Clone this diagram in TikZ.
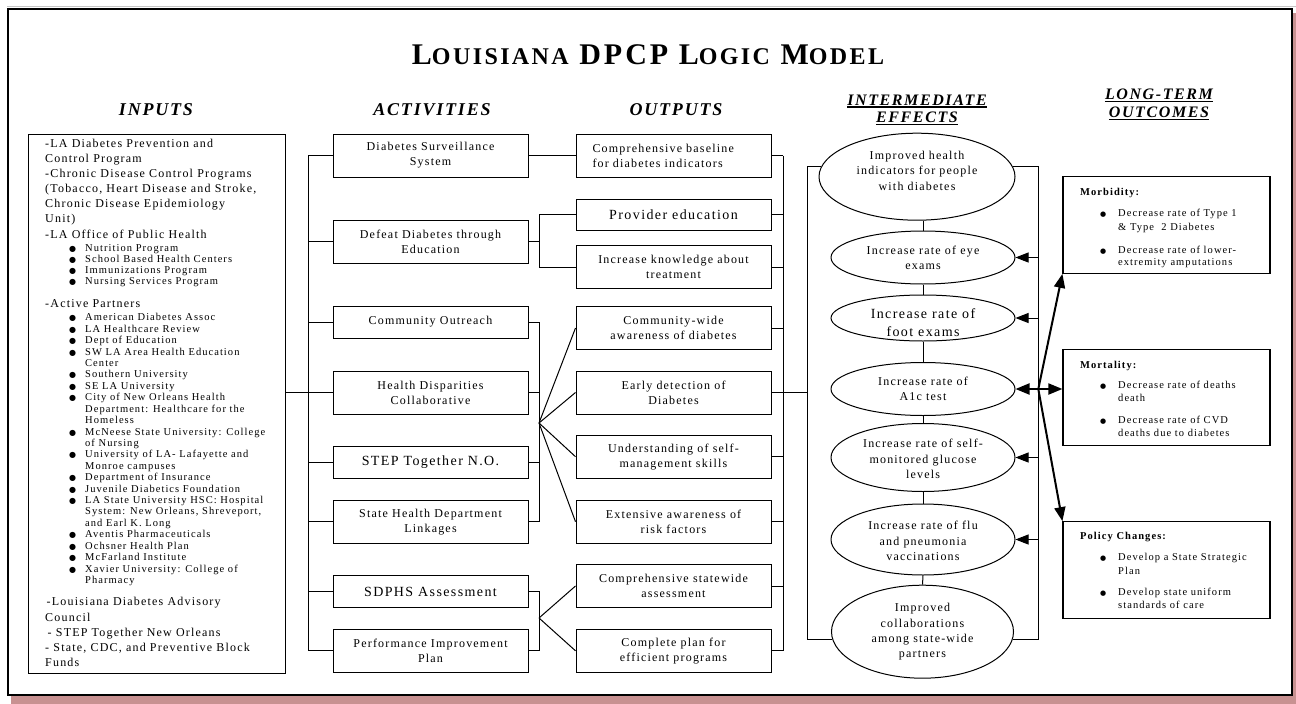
\documentclass[tikz,border=0pt]{standalone}
\usepackage{fontspec}
\setmainfont{Liberation Serif}[LetterSpace=10]
\newfontfamily\dejavu{DejaVu Sans}
\usetikzlibrary{arrows.meta,shapes.geometric,calc}
\definecolor{shadowpink}{RGB}{200,145,145}
\newcommand{\blt}{\makebox[16pt][l]{\smash{\dejavu\fontsize{8}{8}\selectfont ●}}}
\newcommand{\bltb}{\makebox[18pt][l]{\smash{\dejavu\fontsize{7}{7}\selectfont ●}}}
\newcommand{\tsmall}[1]{{\fontsize{24}{24}\selectfont #1}}
\begin{document}
\begin{tikzpicture}[x=1pt,y=-1pt,
  boxnode/.style={draw, line width=1pt, minimum width=195pt, inner sep=0pt, align=center, font=\fontsize{12}{15}\selectfont},
  bigtxt/.style={font=\fontsize{14}{17}\selectfont},
  ellnode/.style={draw, ellipse, line width=1pt, inner sep=0pt},
  elltxt/.style={align=center, inner sep=0pt, font=\fontsize{12}{15.3}\selectfont},
  inmain/.style={anchor=base west, inner sep=0pt, font=\fontsize{12}{12}\selectfont},
  inbul/.style={anchor=base west, inner sep=0pt, font=\fontsize{10.5}{10.5}\selectfont},
  ltbox/.style={draw, line width=1.2pt, minimum width=207pt, minimum height=96.5pt, inner sep=0pt},
  lttxt/.style={anchor=base west, inner sep=0pt, font=\fontsize{10.5}{10.5}\selectfont},
  lthead/.style={anchor=base west, inner sep=0pt, font=\bfseries\fontsize{10.5}{10.5}\selectfont},
  hdr/.style={font=\bfseries\itshape\fontsize{18}{18}\selectfont, anchor=base, inner sep=0pt},
  uhdr/.style={font=\bfseries\itshape\fontsize{16}{16}\selectfont, anchor=base, inner sep=0pt},
  conn/.style={line width=1pt},
  thinarrow/.style={line width=1pt, -{Triangle[length=13pt,width=10pt]}},
  thickarrow/.style={line width=2pt, -{Triangle[length=14pt,width=11pt]}}
]
\useasboundingbox (0,0) rectangle (1296,704);
% frame and shadow
\fill[shadowpink] (11,13) rectangle (1296,704);
\draw[gray!45, line width=1.5pt] (7,6.5) -- (1296,6.5);
\draw[line width=2pt, fill=white] (8,9) rectangle (1292,695);

% title
\node[font=\bfseries\fontsize{30}{30}\selectfont, anchor=base, inner sep=0pt] (title) at (648,64)
  {L\tsmall{OUISIANA} DPCP L\tsmall{OGIC} M\tsmall{ODEL}};

% headers
\node[hdr] (hin) at (156,115) {INPUTS};
\node[hdr] (hact) at (432,115) {ACTIVITIES};
\node[hdr] (hout) at (676,115) {OUTPUTS};
\node[uhdr] (hint1) at (917,105) {INTERMEDIATE};
\node[uhdr] (hint2) at (917,122.5) {EFFECTS};
\node[uhdr] (hlt1) at (1159,99.5) {LONG-TERM};
\node[uhdr] (hlt2) at (1159,117.5) {OUTCOMES};
\foreach \n in {hint1,hint2,hlt1,hlt2}
  \draw[line width=1.5pt] ([yshift=-2pt]\n.base west) -- ([yshift=-2pt]\n.base east);

% inputs box
\node[draw, line width=1pt, minimum width=257pt, minimum height=539pt, inner sep=0pt] (inp) at (156.5,403.5) {};
\foreach \yy/\t [count=\i] in {147/{-LA Diabetes Prevention and}, 162/{Control Program},
   177/{-Chronic Disease Control Programs}, 192/{(Tobacco, Heart Disease and Stroke,},
   207/{Chronic Disease Epidemiology}, 222/{Unit)}, 238.5/{-LA Office of Public Health},
   307/{-Active Partners}}
  \node[inmain] (inm\i) at (45,\yy) {\t};
\foreach \t [count=\i from 0] in {Nutrition Program, School Based Health Centers, Immunizations Program, Nursing Services Program}
  \node[inbul] (inb\i) at (69,{251+11.3*\i}) {\blt\t};
\foreach \xx/\t [count=\i from 0] in {
  69/{\blt American Diabetes Assoc},
  69/{\blt LA Healthcare Review},
  69/{\blt Dept of Education},
  69/{\blt SW LA Area Health Education},
  85/{Center},
  69/{\blt Southern University},
  69/{\blt SE LA University},
  69/{\blt City of New Orleans Health},
  85/{Department: Healthcare for the},
  85/{Homeless},
  69/{\blt McNeese State University: College},
  85/{of Nursing},
  69/{\blt University of LA- Lafayette and},
  85/{Monroe campuses},
  69/{\blt Department of Insurance},
  69/{\blt Juvenile Diabetics Foundation},
  69/{\blt LA State University HSC: Hospital},
  85/{System: New Orleans, Shreveport,},
  85/{and Earl K. Long},
  69/{\blt Aventis Pharmaceuticals},
  69/{\blt Ochsner Health Plan},
  69/{\blt McFarland Institute},
  69/{\blt Xavier University: College of},
  85/{Pharmacy}}
  \node[inbul] (ap\i) at (\xx,{320.8+11.42*\i}) {\t};
\node[inmain] (inl1) at (46.5,605.7) {-Louisiana Diabetes Advisory};
\node[inmain] (inl2) at (45,621.3) {Council};
\node[inmain] (inl3) at (47.5,636.3) {- STEP Together New Orleans};
\node[inmain] (inl4) at (45,651.7) {- State, CDC, and Preventive Block};
\node[inmain] (inl5) at (45,666.7) {Funds};

% activities
\node[boxnode, minimum height=43pt] (a1) at (430.5,155.5) {Diabetes Surveillance\\System};
\node[boxnode, minimum height=43pt] (a2) at (430.5,241.7) {Defeat Diabetes through\\Education};
\node[boxnode, minimum height=32pt] (a3) at (430.5,322) {Community Outreach};
\node[boxnode, minimum height=43pt] (a4) at (430.5,392.5) {Health Disparities\\Collaborative};
\node[boxnode, bigtxt, minimum height=32pt] (a5) at (430.5,462.5) {STEP Together N.O.};
\node[boxnode, minimum height=43pt] (a6) at (430.5,521.7) {State Health Department\\Linkages};
\node[boxnode, bigtxt, minimum height=32pt] (a7) at (430.5,591.7) {SDPHS Assessment};
\node[boxnode, minimum height=43pt] (a8) at (430.5,650.8) {Performance Improvement\\Plan};

% outputs
\node[boxnode, align=left, text width=162pt, minimum height=43pt] (o1) at (673.5,155.5) {Comprehensive baseline\\for diabetes indicators};
\node[boxnode, bigtxt, minimum height=31pt] (o2) at (673.5,214.5) {Provider education};
\node[boxnode, minimum height=43pt] (o3) at (673.5,267) {Increase knowledge about\\treatment};
\node[boxnode, minimum height=43pt] (o4) at (673.5,328) {Community-wide\\awareness of diabetes};
\node[boxnode, minimum height=43pt] (o5) at (673.5,392.5) {Early detection of\\Diabetes};
\node[boxnode, minimum height=43pt] (o6) at (673.5,456.7) {Understanding of self-\\management skills};
\node[boxnode, minimum height=43pt] (o7) at (673.5,521.7) {Extensive awareness of\\risk factors};
\node[boxnode, minimum height=43pt] (o8) at (673.5,586) {Comprehensive statewide\\assessment};
\node[boxnode, minimum height=43pt] (o9) at (673.5,650.8) {Complete plan for\\efficient programs};

% intermediate effects
\node[ellnode, minimum width=196pt, minimum height=87pt] (e1) at (917,176.7) {};
\node[ellnode, minimum width=184pt, minimum height=53pt] (e2) at (923,257.5) {};
\node[ellnode, minimum width=184pt, minimum height=46pt] (e3) at (923,318) {};
\node[ellnode, minimum width=184pt, minimum height=53pt] (e4) at (923,389) {};
\node[ellnode, minimum width=184pt, minimum height=68pt] (e5) at (923,457.5) {};
\node[ellnode, minimum width=184pt, minimum height=71pt] (e6) at (923,539.5) {};
\node[ellnode, minimum width=182pt, minimum height=93pt] (e7) at (922.5,631.7) {};
\node[elltxt] (e1t) at (917,170.7) {Improved health\\indicators for people\\with diabetes};
\node[elltxt] (e2t) at (923,257.5) {Increase rate of eye\\exams};
\node[elltxt, font=\fontsize{14}{18}\selectfont] (e3t) at (923,323) {Increase rate of\\foot exams};
\node[elltxt] (e4t) at (923,389) {Increase rate of\\A1c test};
\node[elltxt] (e5t) at (923,459) {Increase rate of self-\\monitored glucose\\levels};
\node[elltxt] (e6t) at (923,541) {Increase rate of flu\\and pneumonia\\vaccinations};
\node[elltxt] (e7t) at (922.5,632) {Improved\\collaborations\\among state-wide\\partners};

% long-term outcomes
\node[ltbox] (morb) at (1166.5,225) {};
\node[ltbox] (mort) at (1166.5,397.5) {};
\node[ltbox] (pol) at (1166.5,570) {};
\node[lthead] (morbh) at (1080,195) {Morbidity:};
\node[lttxt] (morb1) at (1100,216.5) {\bltb Decrease rate of Type 1};
\node[lttxt] (morb2) at (1118,230) {\& Type\ \ 2 Diabetes};
\node[lttxt] (morb3) at (1100,253.5) {\bltb Decrease rate of lower-};
\node[lttxt] (morb4) at (1118,265) {extremity amputations};
\node[lthead] (morth) at (1080,368.5) {Mortality:};
\node[lttxt] (mort1) at (1100,388.5) {\bltb Decrease rate of deaths};
\node[lttxt] (mort2) at (1118,401.8) {death};
\node[lttxt] (mort3) at (1100,423.5) {\bltb Decrease rate of CVD};
\node[lttxt] (mort4) at (1118,436.2) {deaths due to diabetes};
\node[lthead] (polh) at (1080,539.5) {Policy Changes:};
\node[lttxt] (pol1) at (1100,560) {\bltb Develop a State Strategic};
\node[lttxt] (pol2) at (1118,574) {Plan};
\node[lttxt] (pol3) at (1100,595) {\bltb Develop state uniform};
\node[lttxt] (pol4) at (1118,608.5) {standards of care};

% bus coordinates
\coordinate (ab) at (308,0);
\coordinate (fx) at (539,0);
\coordinate (ob) at (783,0);
\coordinate (lb) at (807,0);
\coordinate (rb) at (1038.3,0);

% inputs -> activities
\draw[conn] (inp.east |- a4.west) -- (a4.west);
\draw[conn] (a1.west -| ab) -- (a8.west -| ab);
\foreach \a in {a1,a2,a3,a4,a5,a6,a7,a8}
  \draw[conn] (\a.west -| ab) -- (\a.west);

% activities -> outputs
\draw[conn] (a1.east) -- (o1.west);
\draw[conn] (a2.east) -- (a2.east -| fx);
\draw[conn] (o2.west) -- (o2.west -| fx) -- (o3.west -| fx) -- (o3.west);
\draw[conn] (a3.east) -- (a3.east -| fx) -- (a6.east -| fx) -- (a6.east);
\draw[conn] (a4.east) -- (a4.east -| fx);
\draw[conn] (a5.east) -- (a5.east -| fx);
\coordinate (fan1) at (539,423);
\foreach \o in {o4,o5,o6,o7}
  \draw[conn] (fan1) -- (\o.west);
\draw[conn] (a7.east) -- (a7.east -| fx) -- (a8.east -| fx) -- (a8.east);
\coordinate (fan2) at (539,618);
\foreach \o in {o8,o9}
  \draw[conn] (fan2) -- (\o.west);

% outputs -> intermediate
\draw[conn] (o1.east -| ob) -- (o9.east -| ob);
\foreach \o in {o1,o2,o3,o4,o5,o6,o7,o8,o9}
  \draw[conn] (\o.east) -- (\o.east -| ob);
\draw[conn] (o5.east -| ob) -- (o5.east -| lb);
\draw[conn] (e1.174) -- (e1.174 -| lb) -- (e7.185 -| lb) -- (e7.185);
\draw[conn] (e1.6) -- (e1.6 -| rb) -- (e7.355 -| rb) -- (e7.355);
\draw[conn] (e2.north) -- (e2.north |- e1.south);
\draw[conn] (e3.north) -- (e2.south);
\draw[conn] (e4.north) -- (e3.south);
\draw[conn] (e5.north) -- (e4.south);
\draw[conn] (e6.north) -- (e5.south);
\draw[conn] (e7.north) -- (e6.south);

% arrows
\foreach \e in {e2,e3,e5,e6}
  \draw[thinarrow] (rb |- \e.east) -- (\e.east);
\coordinate (hub) at (rb |- e4.east);
\draw[thickarrow] (hub) -- (e4.east);
\draw[thickarrow] (hub) -- (hub -| mort.west);
\draw[thickarrow] (hub) -- (morb.south west);
\draw[thickarrow] (hub) -- (pol.north west);
\end{tikzpicture}
\end{document}
